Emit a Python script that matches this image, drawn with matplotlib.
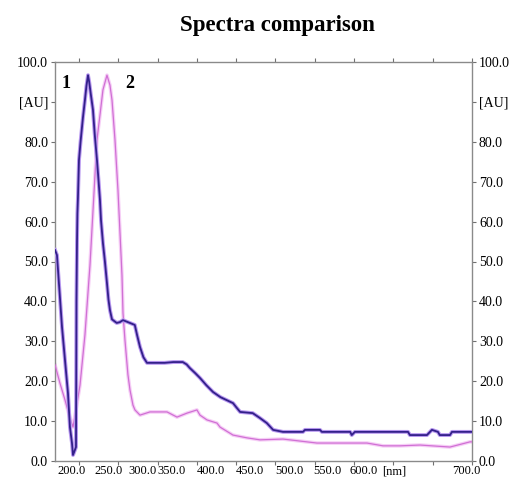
import matplotlib
matplotlib.use("Agg")
import matplotlib.pyplot as plt

# ---- data ----
wl_1 = [169.5, 172, 178.4, 182.2, 186, 188.5, 191.1, 192.4, 194.9, 196.2, 196.5, 196.8,
        197.5, 198, 198.7, 200, 202, 205, 207.6, 209.5, 211.5, 213, 215, 217.8, 220,
        222.9, 225, 226.7, 228, 230.5, 233, 235.6, 237.5, 239.4, 242, 248, 252, 256,
        262.3, 271, 274, 277.6, 282, 286.5, 309, 320, 332, 337, 341, 348, 354, 362,
        370.5, 380, 396, 400, 405, 421, 430, 439, 447, 459.5, 485, 487.5, 506.6, 509,
        545, 547, 551, 618.6, 621, 642.7, 649, 656.7, 659, 672, 674.5, 700]
au_1 = [52.9, 51.6, 33.6, 25.3, 17.0, 8.5, 4.5, 1.5, 2.8, 3.5, 20, 40,
        55, 62, 66, 75.4, 80, 86, 90.5, 94, 96.7, 95, 92, 88, 82,
        75.4, 70, 65.4, 60.4, 54.6, 50, 44.6, 40.5, 37.8, 35.5, 34.6, 34.8, 35.3,
        34.8, 34.1, 31.5, 28.6, 26, 24.6, 24.6, 24.8, 24.8, 24.2, 23.3, 22, 20.8, 19,
        17.3, 16, 14.5, 13.5, 12.3, 12.0, 10.8, 9.5, 7.8, 7.3, 7.3, 7.8, 7.8, 7.3,
        7.3, 6.5, 7.3, 7.3, 6.5, 6.5, 7.8, 7.3, 6.5, 6.5, 7.3, 7.3]

wl_2 = [169.5, 175.8, 182.2, 188.5, 192.4, 196.2, 201.3, 207.6, 214.0, 219.1, 222.9,
        226.7, 230.5, 235.6, 239.4, 242.0, 245.8, 249.6, 252.2, 254.7, 256.0, 258.5,
        262.3, 264.9, 268.7, 271.2, 277.6, 290.3, 312.0, 324.7, 337.4, 350.1, 353.9,
        362.8, 375.6, 379.4, 395.9, 413.7, 430.3, 459.5, 481.2, 502.8, 544.8, 566.4,
        586.8, 608.4, 633.8, 672.0, 697.5, 700]
au_2 = [24.1, 19.5, 15.3, 10.8, 8.5, 12.8, 19.0, 31.6, 49.1, 67.2, 80.5,
        86.7, 93.0, 96.7, 94.2, 90.5, 80.5, 67.9, 57.1, 46.6, 37.1, 30.3,
        21.6, 17.8, 14.0, 12.8, 11.5, 12.3, 12.3, 11.0, 12.0, 12.8, 11.5,
        10.3, 9.5, 8.5, 6.5, 5.8, 5.3, 5.5, 5.0, 4.5, 4.5, 4.5,
        3.8, 3.8, 4.0, 3.5, 4.8, 4.8]

x_ticks = [200, 250, 300, 350, 400, 450, 500, 550, 600, 650, 700]
x_label_pos = [191.1, 238.2, 281.0, 318.0, 367.9, 417.6, 467.2, 515.5, 562.6, 600.8, 692.4]
x_labels = ["200.0", "250.0", "300.0", "350.0", "400.0", "450.0", "500.0", "550.0",
            "600.0", "[nm]", "700.0"]
y_ticks = [0, 10, 20, 30, 40, 50, 60, 70, 80, 90, 100]
y_labels = ["0.0", "10.0", "20.0", "30.0", "40.0", "50.0", "60.0", "70.0", "80.0",
            "[AU]", "100.0"]
title = "Spectra comparison"
peak_labels = ["1", "2"]
peak_label_pos = [(183.5, 94.7), (264.9, 94.7)]

plt.rcParams['font.family'] = ['Liberation Serif', 'DejaVu Serif']

fig = plt.figure(figsize=(5.13, 4.88), dpi=100)
ax = fig.add_axes([55 / 513, 1 - 461 / 488, (472 - 55) / 513, (461 - 62) / 488])

# glow + core lines
ax.plot(wl_2, au_2, color='#f6cef6', lw=2.6, solid_joinstyle='round', zorder=2)
ax.plot(wl_2, au_2, color='#d070d4', lw=0.9, zorder=3)
ax.plot(wl_1, au_1, color='#b898f0', lw=2.8, solid_joinstyle='round', zorder=4)
ax.plot(wl_1, au_1, color='#33208a', lw=1.3, zorder=5)

ax.set_xlim(169.5, 700)
ax.set_ylim(0, 100)

# major ticks (marks only) on all sides; labels placed as in the reference
ax.set_xticks(x_ticks)
ax.set_xticklabels([''] * len(x_ticks))
ax.set_xticks(x_label_pos, x_labels, minor=True)
ax.tick_params(axis='x', which='minor', length=0, labelsize=9, pad=3)
ax.tick_params(axis='x', which='major', direction='out', length=3, width=0.8,
               color='#707070', top=True, bottom=True)

ax.set_yticks(y_ticks, y_labels)
ax.tick_params(axis='y', which='major', direction='out', length=3, width=0.8,
               color='#707070', left=True, right=True, labelleft=True,
               labelright=True, labelsize=10, pad=2)

for s in ax.spines.values():
    s.set_color('#8a8a8a')
    s.set_linewidth(1.0)

for lab, (px, py) in zip(peak_labels, peak_label_pos):
    ax.text(px, py, lab, fontsize=13, fontweight='bold', ha='center', va='center')

fig.text(277 / 513, 1 - 26 / 488, title, fontsize=16.5, fontweight='bold',
         ha='center', va='center')

fig.savefig('out.png', dpi=100)
